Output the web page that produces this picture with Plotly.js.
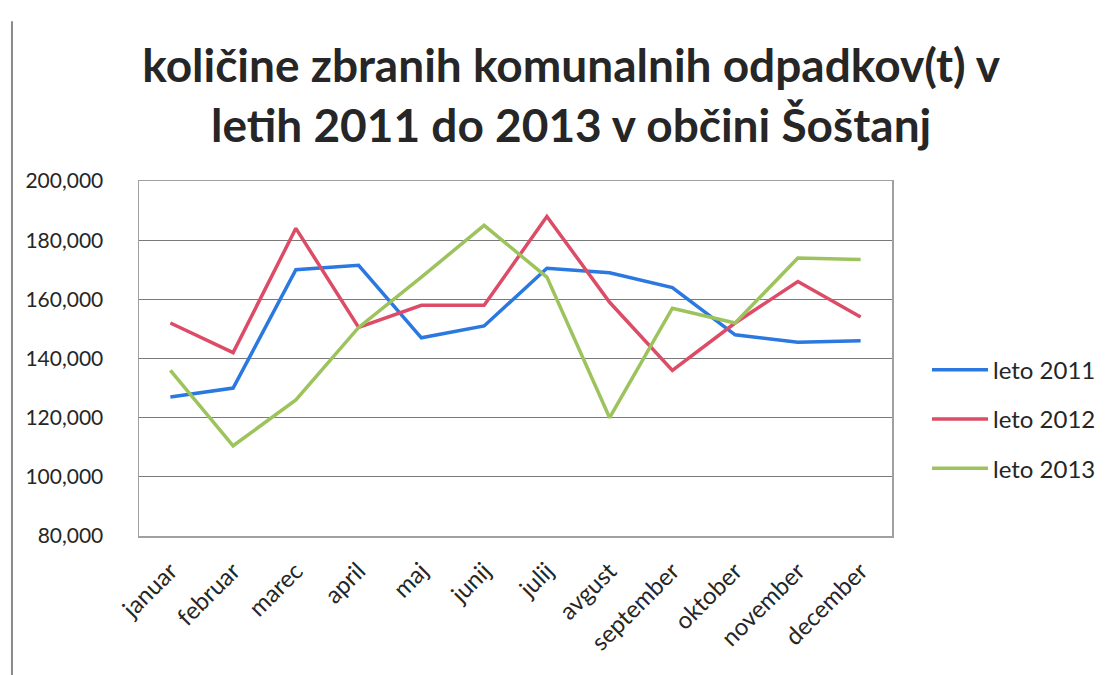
<!DOCTYPE html>
<html>
<head>
<meta charset="utf-8">
<script src="https://cdn.plot.ly/plotly-3.0.1.min.js"></script>
<style>html,body{margin:0;padding:0;background:#fff;}#chart{width:1109px;height:675px;}</style>
</head>
<body>
<div id="chart"></div>
<script>
const months = ["januar","februar","marec","april","maj","junij","julij","avgust","september","oktober","november","december"];
const leto2011 = [127000,130000,170000,171500,147000,151000,170500,169000,164000,148000,145500,146000];
const leto2012 = [152000,142000,184000,150500,158000,158000,188000,159000,136000,152000,166000,154000];
const leto2013 = [136000,110500,126000,150500,167500,185000,167500,120000,157000,152000,174000,173500];
const seriesNames = ["leto 2011","leto 2012","leto 2013"];
const titleText = "količine zbranih komunalnih odpadkov(t) v<br>letih 2011 do 2013 v občini Šoštanj";

const colors = ["#2a78e0","#dc4c66","#9cc35c"];
const data = [leto2011, leto2012, leto2013].map((vals, i) => ({
  type: "scatter", mode: "lines", x: months, y: vals, name: seriesNames[i],
  legendgroup: "g" + i,
  line: {color: colors[i], width: 3.5}
}));

const font = "Lato, 'Open Sans', sans-serif";
const layout = {
  width: 1109, height: 675,
  margin: {l: 139, r: 217, t: 181, b: 139, autoexpand: false},
  paper_bgcolor: "#fff", plot_bgcolor: "#fff",
  font: {family: font, color: "#262626"},
  title: {
    text: titleText,
    font: {family: font, size: 46, color: "#262626", weight: "bold"},
    x: 0.515, xref: "container", xanchor: "center",
    y: 0.878, yref: "container", yanchor: "top"
  },
  xaxis: {
    type: "category", range: [-0.5, 11.5],
    tickangle: -45, tickfont: {size: 24, color: "#262626"},
    showgrid: false, showline: true, linecolor: "#a0a0a0", linewidth: 1.5, mirror: true,
    ticks: "", fixedrange: true, ticklabelstandoff: 10, automargin: false
  },
  yaxis: {
    range: [80000, 200000], dtick: 20000, tickformat: ",d",
    tickfont: {size: 21, color: "#262626"},
    showgrid: true, gridcolor: "#7a7a7a", gridwidth: 1,
    showline: true, linecolor: "#a0a0a0", linewidth: 1.5, mirror: true,
    zeroline: false, ticks: "", ticklabelstandoff: 30, automargin: false
  },
  legend: {
    x: 1.0465, xanchor: "left", y: 0.329, yanchor: "middle",
    font: {size: 24, color: "#262626"},
    traceorder: "grouped", tracegroupgap: 15, itemwidth: 56,
    bgcolor: "rgba(0,0,0,0)"
  },
  shapes: [{
    type: "line", xref: "paper", yref: "paper",
    x0: -0.1687, x1: -0.1687, y0: 1.45, y1: -0.40,
    line: {color: "#8a8a8a", width: 2}
  }],
  showlegend: true
};
Plotly.newPlot("chart", data, layout, {displayModeBar: false, staticPlot: true});
</script>
</body>
</html>
